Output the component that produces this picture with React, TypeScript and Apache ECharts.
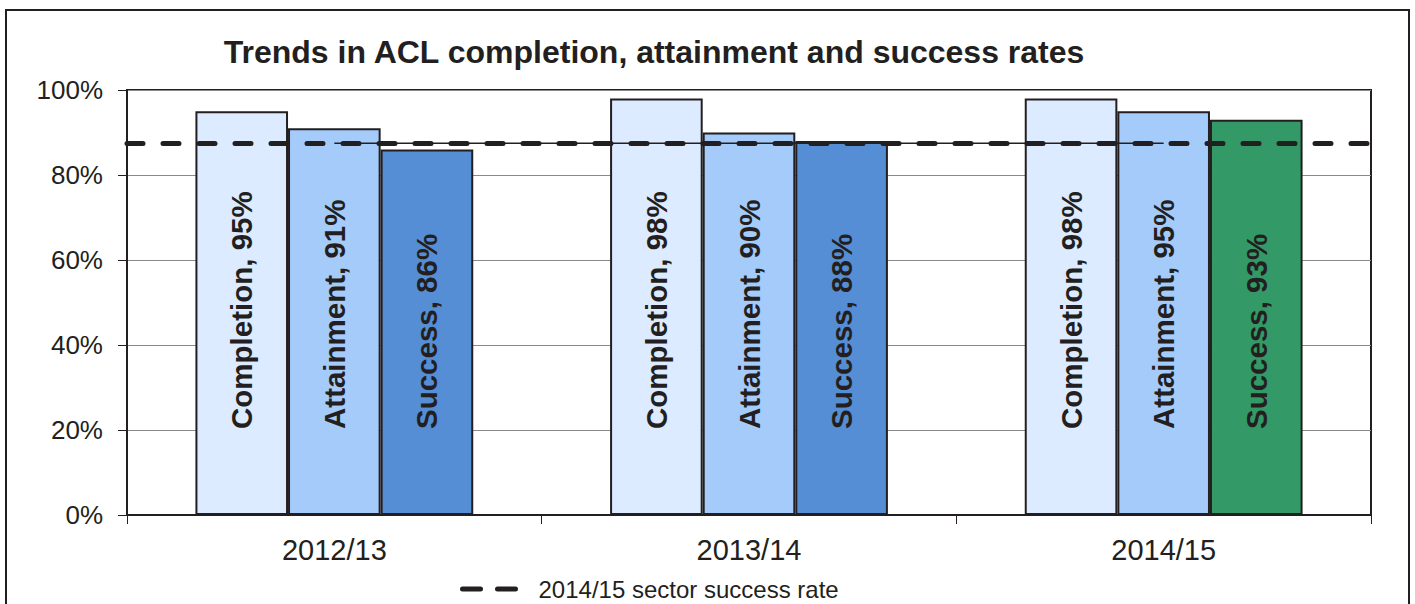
import React, { useEffect, useRef } from "react";
import * as echarts from "echarts";

const categories = ["2012/13", "2013/14", "2014/15"];
const completion = [95, 98, 98];
const attainment = [91, 90, 95];
const success = [86, 88, 93];
const sectorRate = 87.5;
const sectorLine = [87.5, 87.5, 87.5];

const FONT = "'Liberation Sans', Arial, sans-serif";

export default function App() {
  const ref = useRef<HTMLDivElement>(null);
  useEffect(() => {
    const chart = echarts.init(ref.current!, null, { renderer: "svg" });
    const barLabel = (name: string) => ({
      show: true,
      position: "insideBottom",
      distance: 86,
      rotate: 90,
      align: "left",
      verticalAlign: "middle",
      fontFamily: FONT,
      fontWeight: "bold",
      fontSize: 29.5,
      color: "#231f20",
      formatter: (p: any) => `${name}, ${p.value}%`,
    });
    const border = { borderColor: "#231f20", borderWidth: 2 };
    chart.setOption({
      animation: false,
      title: {
        text: "Trends in ACL completion, attainment and success rates",
        left: 649,
        top: 31,
        textAlign: "center",
        textStyle: { fontFamily: FONT, fontWeight: "bold", fontSize: 32, color: "#231f20" },
      },
      graphic: [
        {
          type: "rect",
          shape: { x: 6, y: 10, width: 1403, height: 620 },
          style: { fill: "none", stroke: "#231f20", lineWidth: 2 },
          silent: true,
        },
      ],
      legend: {
        left: 455,
        top: 572,
        itemWidth: 57,
        itemHeight: 14,
        textStyle: { fontFamily: FONT, fontSize: 24, color: "#231f20", padding: [0, 0, 0, 14] },
        data: [
          {
            name: "2014/15 sector success rate",
            itemStyle: { opacity: 0 },
            lineStyle: { type: [18, 17], width: 5, color: "#231f20", cap: "round" },
          },
        ],
      },
      grid: {
        left: 127,
        right: 44,
        top: 90,
        bottom: 89,
        show: true,
        borderColor: "#231f20",
        borderWidth: 2,
        containLabel: false,
      },
      xAxis: {
        type: "category",
        data: categories,
        axisLine: { lineStyle: { color: "#231f20", width: 2 } },
        axisTick: { show: true, length: 9, lineStyle: { color: "#231f20", width: 1 } },
        axisLabel: { fontFamily: FONT, fontSize: 29, color: "#231f20", margin: 20 },
      },
      yAxis: {
        type: "value",
        min: 0,
        max: 100,
        interval: 20,
        axisLine: { show: true, lineStyle: { color: "#231f20", width: 2 } },
        axisTick: { show: true, length: 9, lineStyle: { color: "#231f20", width: 1 } },
        axisLabel: { fontFamily: FONT, fontSize: 26, color: "#231f20", margin: 24, formatter: "{value}%" },
        splitLine: { lineStyle: { color: "#8a8a8a", width: 1 } },
      },
      series: [
        {
          name: "Completion",
          type: "bar",
          data: completion,
          barGap: "0%",
          barCategoryGap: "33%",
          itemStyle: { color: "#dcebff", ...border },
          label: barLabel("Completion"),
        },
        {
          name: "Attainment",
          type: "bar",
          data: attainment,
          itemStyle: { color: "#a4cbfa", ...border },
          label: barLabel("Attainment"),
        },
        {
          name: "Success",
          type: "bar",
          data: success.map((v, i) =>
            i === 2 ? { value: v, itemStyle: { color: "#339966" } } : v
          ),
          itemStyle: { color: "#558ed5", ...border },
          label: barLabel("Success"),
        },
        {
          name: "2014/15 sector success rate",
          type: "line",
          data: sectorLine,
          symbol: "none",
          z: 5,
          itemStyle: { color: "#231f20" },
          lineStyle: { color: "#231f20", width: 1.5, type: "solid" },
          markLine: {
            silent: true,
            symbol: ["none", "none"],
            label: { show: false },
            lineStyle: { color: "#231f20", width: 5, type: [16, 20], cap: "round" },
            data: [{ yAxis: sectorRate }],
          },
        },
      ],
    });
    return () => chart.dispose();
  }, []);
  return (
    <div
      ref={ref}
      style={{ position: "fixed", left: 0, top: 0, width: 1415, height: 604, background: "#fff" }}
    />
  );
}
